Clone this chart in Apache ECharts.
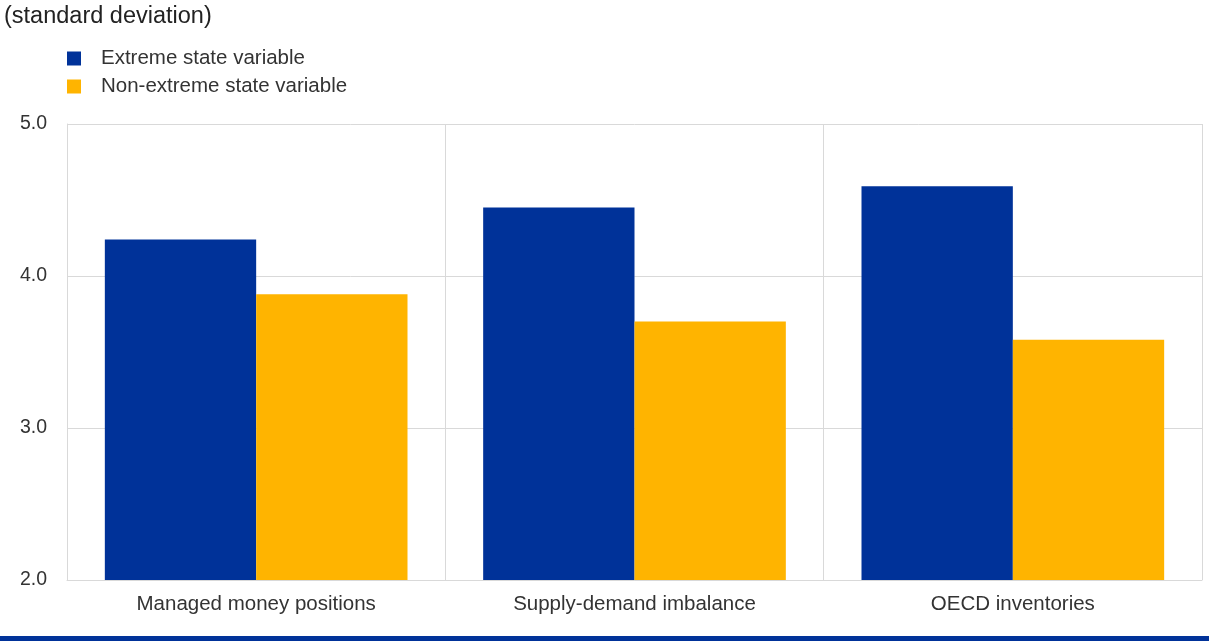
<!DOCTYPE html>
<html>
<head>
<meta charset="utf-8">
<script src="https://cdn.jsdelivr.net/npm/echarts@6/dist/echarts.min.js"></script>
<style>
  html, body { margin: 0; padding: 0; background: #fff; }
  #chart { width: 1209px; height: 641px; }
</style>
</head>
<body>
<div id="chart"></div>
<script>
const categories = ['Managed money positions', 'Supply-demand imbalance', 'OECD inventories']
const extremeValues = [4.24, 4.45, 4.59]
const nonExtremeValues = [3.88, 3.70, 3.58]
const yTicks = { min: 2, max: 5, interval: 1 }

const font = 'Arial, "Liberation Sans", sans-serif'
const textColor = '#333'

const chart = echarts.init(document.getElementById('chart'))
chart.setOption({
  animation: false,
  title: {
    text: '(standard deviation)',
    left: 0,
    top: 5,
    padding: [0, 0, 0, 4],
    textStyle: { fontFamily: font, fontSize: 23.5, fontWeight: 'normal', color: '#222' }
  },
  legend: {
    orient: 'vertical',
    left: 67,
    top: 48,
    itemWidth: 14,
    itemHeight: 14,
    itemGap: 7,
    icon: 'rect',
    padding: 0,
    textStyle: { fontFamily: font, fontSize: 20.5, color: textColor, padding: [0, 0, 0, 15] },
    data: ['Extreme state variable', 'Non-extreme state variable']
  },
  grid: { left: 67, right: 7, top: 124, bottom: 61, containLabel: false },
  xAxis: {
    type: 'category',
    data: categories,
    axisTick: { show: false },
    axisLine: { lineStyle: { color: '#d9d9d9' } },
    axisLabel: { fontFamily: font, fontSize: 20.5, color: textColor, margin: 14 },
    splitLine: { show: true, lineStyle: { color: '#d9d9d9', width: 1 } }
  },
  yAxis: {
    type: 'value',
    min: yTicks.min,
    max: yTicks.max,
    interval: yTicks.interval,
    axisLine: { show: true, lineStyle: { color: '#d9d9d9' } },
    axisTick: { show: false },
    axisLabel: {
      fontFamily: font, fontSize: 19.5, color: textColor, margin: 20,
      formatter: v => v.toFixed(1)
    },
    splitLine: { lineStyle: { color: '#d9d9d9', width: 1 } }
  },
  series: [
    {
      name: 'Extreme state variable',
      type: 'bar',
      data: extremeValues,
      barGap: '0%',
      barCategoryGap: '20%',
      itemStyle: { color: '#003299' }
    },
    {
      name: 'Non-extreme state variable',
      type: 'bar',
      data: nonExtremeValues,
      barGap: '0%',
      barCategoryGap: '20%',
      itemStyle: { color: '#FFB400' }
    }
  ],
  graphic: [{
    type: 'rect',
    left: 0,
    bottom: 0,
    shape: { width: 1209, height: 5 },
    style: { fill: '#003299' }
  }]
})
</script>
</body>
</html>
